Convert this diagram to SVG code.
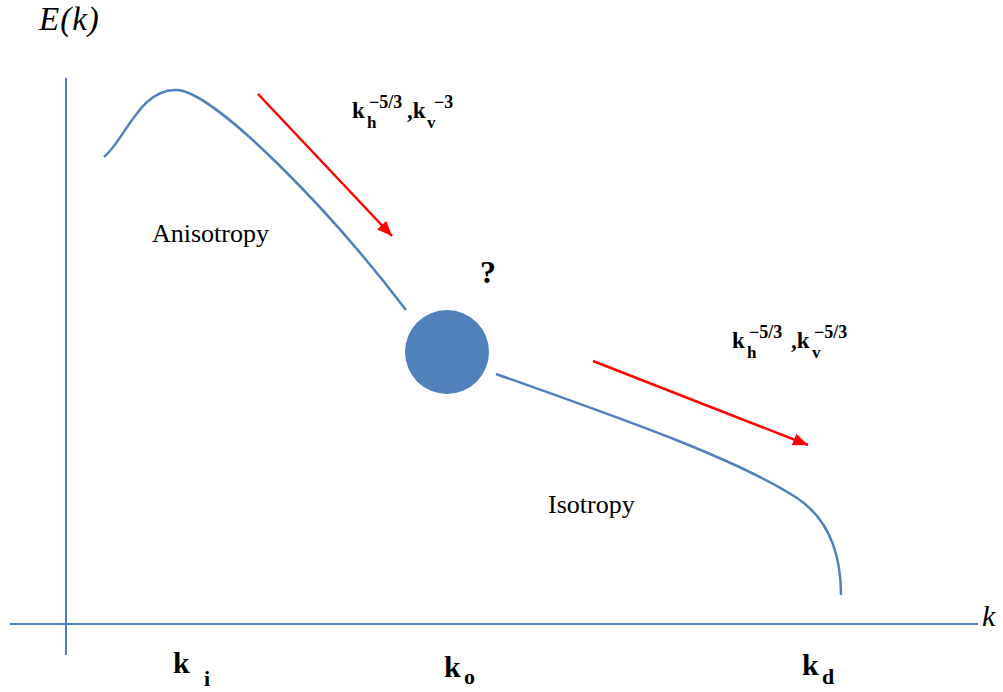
<svg xmlns="http://www.w3.org/2000/svg" width="1003" height="692" viewBox="0 0 1003 692">
<style>
.ax{stroke:#4F81BD;stroke-width:2;fill:none}
.cv{stroke:#4F81BD;stroke-width:2.5;fill:none}
.ar{stroke:#FF0000;stroke-width:2.5;fill:none;marker-end:url(#ah)}
.it{font-family:"Liberation Serif","Times New Roman",serif;font-style:italic;fill:#000}
.lb{font-family:"Liberation Serif","Times New Roman",serif;font-size:26px;fill:#000}
.bk{font-family:"Liberation Serif","Times New Roman",serif;font-weight:bold;fill:#000}
</style>
<defs>
<marker id="ah" markerWidth="7" markerHeight="6" refX="6" refY="2.5" orient="auto" markerUnits="strokeWidth">
<path d="M0,0 L6,2.5 L0,5 Z" fill="#FF0000"/>
</marker>
</defs>
<rect width="1003" height="692" fill="#fff"/>
<g id="axes">
<line class="ax" x1="66" y1="78" x2="66" y2="655"/>
<line class="ax" x1="10" y1="624" x2="978" y2="624"/>
<text class="it" font-size="33" x="39" y="30" letter-spacing="1">E(k)</text>
<text class="it" font-size="30" x="982" y="626">k</text>
</g>
<g id="connectors">
<path class="cv" d="M104,157 C125,140 140,88 177,90 C215,92 330,210 406,310"/>
<path class="cv" d="M496,374 C620,418 735,458 797,498 C830,520 841,555 841,595"/>
<line class="ar" x1="258" y1="94" x2="392" y2="236"/>
<line class="ar" x1="593" y1="361" x2="808" y2="445"/>
</g>
<g id="node-circle">
<circle cx="447" cy="352" r="42" fill="#4F81BD"/>
<text class="bk" x="480" y="283" font-size="32">?</text>
</g>
<g id="labels">
<text class="lb" x="152" y="242">Anisotropy</text>
<text class="lb" x="548" y="513">Isotropy</text>
<text class="bk" font-size="23" x="352" y="118">k</text>
<text class="bk" font-size="17" x="367" y="128">h</text>
<text class="bk" font-size="18" x="369" y="108">−5/3</text>
<text class="bk" font-size="23" x="407" y="118">,k</text>
<text class="bk" font-size="17" x="427" y="128">v</text>
<text class="bk" font-size="18" x="434" y="108">−3</text>
<text class="bk" font-size="23" x="732" y="348">k</text>
<text class="bk" font-size="17" x="747" y="358">h</text>
<text class="bk" font-size="18" x="749" y="338">−5/3</text>
<text class="bk" font-size="23" x="791" y="348">,k</text>
<text class="bk" font-size="17" x="812" y="358">v</text>
<text class="bk" font-size="18" x="814" y="338">−5/3</text>
<text class="bk" font-size="30" x="173" y="673">k</text>
<text class="bk" font-size="22" x="204" y="686">i</text>
<text class="bk" font-size="30" x="444" y="677">k</text>
<text class="bk" font-size="22" x="464" y="684">o</text>
<text class="bk" font-size="30" x="802" y="675">k</text>
<text class="bk" font-size="22" x="822" y="684">d</text>
</g>
</svg>
